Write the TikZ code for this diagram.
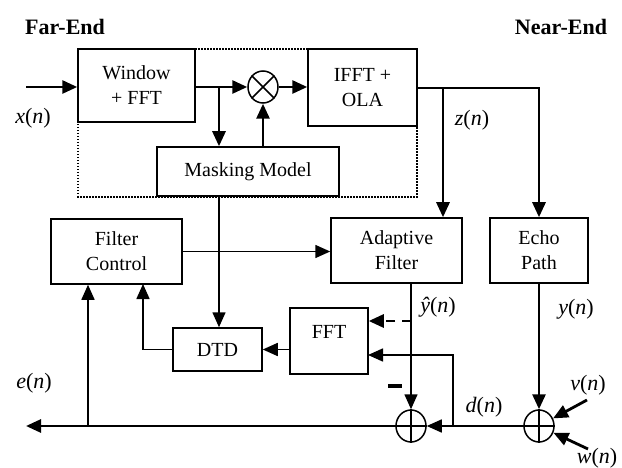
\documentclass[tikz,border=0pt]{standalone}
\usepackage{fontspec}
\setmainfont{Liberation Serif}
\usetikzlibrary{arrows.meta,shapes.geometric}

\begin{document}
\begin{tikzpicture}[x=1pt,y=-1pt,
  blk/.style={draw,line width=1.5pt,fill=white,align=center,inner sep=0pt,
    font=\fontsize{20}{25}\selectfont},
  junc/.style={draw,ellipse,line width=1.5pt,minimum width=30pt,
    minimum height=32pt,inner sep=0pt,fill=white},
  thk/.style={line width=2.8pt},
  thn/.style={line width=1.6pt},
  arr/.style={-{Triangle[length=15pt,width=13pt]}},
  lbl/.style={font=\fontsize{22}{24}\selectfont,inner sep=0pt},
  hdr/.style={font=\fontsize{22}{24}\selectfont\bfseries,inner sep=0pt}]

\useasboundingbox (0,0) rectangle (622,468);

% dotted frame around the far-end processing
\draw[line width=1.5pt,dash pattern=on 1.5pt off 1.5pt] (78,49) rectangle (417,197);

% blocks
\node[blk,minimum width=117pt,minimum height=73pt] (win) at (136.5,85.5) {Window\\+ FFT};
\node[blk,minimum width=109pt,minimum height=77pt] (ifft) at (362.5,87.5) {IFFT +\\OLA};
\node[blk,minimum width=182pt,minimum height=49pt] (mask) at (248,171.5) {Masking Model};
\node[blk,minimum width=131pt,minimum height=65pt] (fc) at (116.5,251.5) {Filter\\Control};
\node[blk,minimum width=131pt,minimum height=65pt] (adf) at (396.5,250.5) {Adaptive\\Filter};
\node[blk,minimum width=98pt,minimum height=65pt] (echo) at (539,250.5) {Echo\\Path};
\node[blk,minimum width=78pt,minimum height=66pt] (fft) at (329,341) {};
\node[inner sep=0pt,font=\fontsize{20}{25}\selectfont] (fftlbl) at (329,332) {FFT};
\node[blk,minimum width=89pt,minimum height=43pt] (dtd) at (217.5,349.5) {DTD};

% multiplier and summing junctions
\node[junc] (mult) at (263,87) {};
\draw[line width=1.5pt] (mult.45) -- (mult.225) (mult.135) -- (mult.-45);
\node[junc] (sub) at (411,426) {};
\draw[line width=1.5pt] (sub.north) -- (sub.south) (sub.west) -- (sub.east);
\node[junc] (add) at (539,426) {};
\draw[line width=1.5pt] (add.north) -- (add.south) (add.west) -- (add.east);

% free ends and branch points
\coordinate (xin) at (26,87);
\coordinate (br1) at (219,87);
\coordinate (ztop) at (539,88);
\coordinate (zbr) at (443,88);
\coordinate (fcin2) at (143,284);
\coordinate (yhb) at (411,321);
\coordinate (dbr) at (453,426);
\coordinate (fftin2) at (368,355);
\coordinate (eout) at (26,426);
\coordinate (ebr) at (88,426);
\coordinate (vsrc) at (587,400);
\coordinate (wsrc) at (588,449);

% far-end signal path
\draw[thk,arr] (xin) -- (xin -| win.west);
\draw[thk,arr] (win.east |- mult) -- (mult.west);
\draw[thk,arr] (br1) -- (br1 |- mask.north);
\draw[thk,arr] (mask.north -| mult) -- (mult.south);
\draw[thk,arr] (mult.east) -- (mult.east -| ifft.west);
\draw[thk,arr] (ifft.east |- ztop) -- (ztop) -- (ztop |- echo.north);
\draw[thk,arr] (zbr) -- (zbr |- adf.north);

% control paths
\draw[thn,arr] (mask.south -| br1) -- (br1 |- dtd.north);
\draw[thn,arr] (fc.east) -- (fc.east -| adf.west);
\draw[thn,arr] (dtd.west) -| (fcin2);
\draw[thn,arr] (fft.west |- dtd) -- (dtd.east);

% echo estimate and error
\draw[thn,arr] (adf.south -| sub) -- (sub.north);
\draw[thk,dash pattern=on 9pt off 7pt,arr] (yhb) -- (yhb -| fft.east);
\draw[thk,arr] (echo.south -| add) -- (add.north);
\draw[thk,arr] (vsrc) -- (add);
\draw[thk,arr] (wsrc) -- (add);
\draw[thn,arr] (add.west) -- (sub.east);
\draw[thn,arr] (dbr) |- (fftin2);
\draw[thk,arr] (sub.west) -- (eout);
\draw[thn,arr] (ebr) -- (ebr |- fc.south);

% labels
\node[hdr] (farend) at (65,27) {Far-End};
\node[hdr] (nearend) at (561,27) {Near-End};
\node[lbl] (lx) at (33,118) {\textit{x}(\textit{n})};
\node[lbl] (lz) at (472,120) {\textit{z}(\textit{n})};
\node[lbl] (le) at (34,383) {\textit{e}(\textit{n})};
\node[lbl] (lyh) at (438,307) {\textit{\^y}(\textit{n})};
\node[lbl] (ly) at (576,309) {\textit{y}(\textit{n})};
\node[lbl] (lv) at (588,385) {\textit{v}(\textit{n})};
\node[lbl] (lw) at (597,458) {\textit{w}(\textit{n})};
\node[lbl] (ld) at (484,407) {\textit{d}(\textit{n})};
\node[inner sep=0pt] (lminus) at (395,386) {\rule{14pt}{3.5pt}};

\end{tikzpicture}
\end{document}
